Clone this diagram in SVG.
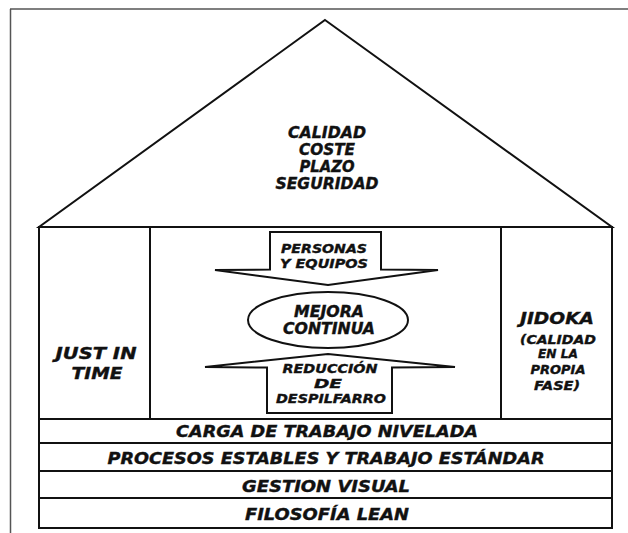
<svg xmlns="http://www.w3.org/2000/svg" width="628" height="533" viewBox="0 0 628 533">
<style>
.ln{fill:#fff;stroke:#111;stroke-width:2;stroke-linejoin:miter}
.t{font-family:"DejaVu Sans","Verdana",sans-serif;font-weight:bold;font-style:italic;fill:#111;stroke:#111;stroke-width:0.4;text-anchor:middle}
.s11{font-size:13px}
.s13{font-size:15px}
.s15{font-size:16.5px}
</style>
<rect width="628" height="533" fill="#fff"/>
<g id="frame">
<line x1="10" y1="9" x2="628" y2="9" stroke="#555" stroke-width="1.5"/>
<line x1="10.5" y1="9" x2="10.5" y2="533" stroke="#555" stroke-width="1.5"/>
</g>
<g id="roof">
<polygon class="ln" points="325,20 612,227 39,227"/>
<text class="t s13" x="327" y="138" textLength="78" lengthAdjust="spacingAndGlyphs">CALIDAD</text>
<text class="t s13" x="327" y="155" textLength="56" lengthAdjust="spacingAndGlyphs">COSTE</text>
<text class="t s13" x="327" y="172" textLength="55" lengthAdjust="spacingAndGlyphs">PLAZO</text>
<text class="t s13" x="327" y="189" textLength="103" lengthAdjust="spacingAndGlyphs">SEGURIDAD</text>
</g>
<g id="center-box">
<rect class="ln" x="150" y="227" width="351" height="192"/>
</g>
<g id="just-in-time">
<rect class="ln" x="39" y="227" width="111" height="192"/>
<text class="t s15" x="96" y="359" textLength="81" lengthAdjust="spacingAndGlyphs">JUST IN</text>
<text class="t s15" x="97" y="379" textLength="51" lengthAdjust="spacingAndGlyphs">TIME</text>
</g>
<g id="jidoka">
<rect class="ln" x="501" y="227" width="111" height="192"/>
<text class="t s15" x="557" y="324" textLength="74" lengthAdjust="spacingAndGlyphs">JIDOKA</text>
<text class="t s11" x="558" y="344" textLength="76" lengthAdjust="spacingAndGlyphs">(CALIDAD</text>
<text class="t s11" x="558" y="358" textLength="40" lengthAdjust="spacingAndGlyphs">EN LA</text>
<text class="t s11" x="558" y="374" textLength="55" lengthAdjust="spacingAndGlyphs">PROPIA</text>
<text class="t s11" x="557" y="390" textLength="46" lengthAdjust="spacingAndGlyphs">FASE)</text>
</g>
<g id="personas-equipos">
<polygon class="ln" points="270,232 381,232 381,269.5 438,270 328,285 215,270 270,269.5"/>
<text class="t s11" x="324" y="253" textLength="86" lengthAdjust="spacingAndGlyphs">PERSONAS</text>
<text class="t s11" x="324" y="268" textLength="88" lengthAdjust="spacingAndGlyphs">Y EQUIPOS</text>
</g>
<g id="mejora-continua">
<ellipse class="ln" cx="328" cy="320" rx="80" ry="28"/>
<text class="t s13" x="329" y="317" textLength="70" lengthAdjust="spacingAndGlyphs">MEJORA</text>
<text class="t s13" x="329" y="334" textLength="92" lengthAdjust="spacingAndGlyphs">CONTINUA</text>
</g>
<g id="reduccion-despilfarro">
<polygon class="ln" points="267,413 392,413 392,367.5 455,367 328,354 205,367 267,367.5"/>
<text class="t s11" x="330" y="373" textLength="95" lengthAdjust="spacingAndGlyphs">REDUCCIÓN</text>
<text class="t s11" x="328" y="388" textLength="28" lengthAdjust="spacingAndGlyphs">DE</text>
<text class="t s11" x="331" y="403" textLength="110" lengthAdjust="spacingAndGlyphs">DESPILFARRO</text>
</g>
<g id="carga-trabajo">
<rect class="ln" x="39" y="419" width="573" height="24"/>
<text class="t s15" x="327" y="437" textLength="302" lengthAdjust="spacingAndGlyphs">CARGA DE TRABAJO NIVELADA</text>
</g>
<g id="procesos-estables">
<rect class="ln" x="39" y="443" width="573" height="28"/>
<text class="t s15" x="326" y="464" textLength="437" lengthAdjust="spacingAndGlyphs">PROCESOS ESTABLES Y TRABAJO ESTÁNDAR</text>
</g>
<g id="gestion-visual">
<rect class="ln" x="39" y="471" width="573" height="27"/>
<text class="t s15" x="326" y="492" textLength="168" lengthAdjust="spacingAndGlyphs">GESTION VISUAL</text>
</g>
<g id="filosofia-lean">
<rect class="ln" x="39" y="498" width="573" height="30"/>
<text class="t s15" x="327" y="520" textLength="164" lengthAdjust="spacingAndGlyphs">FILOSOFÍA LEAN</text>
</g>
<g id="connectors"></g>
</svg>
